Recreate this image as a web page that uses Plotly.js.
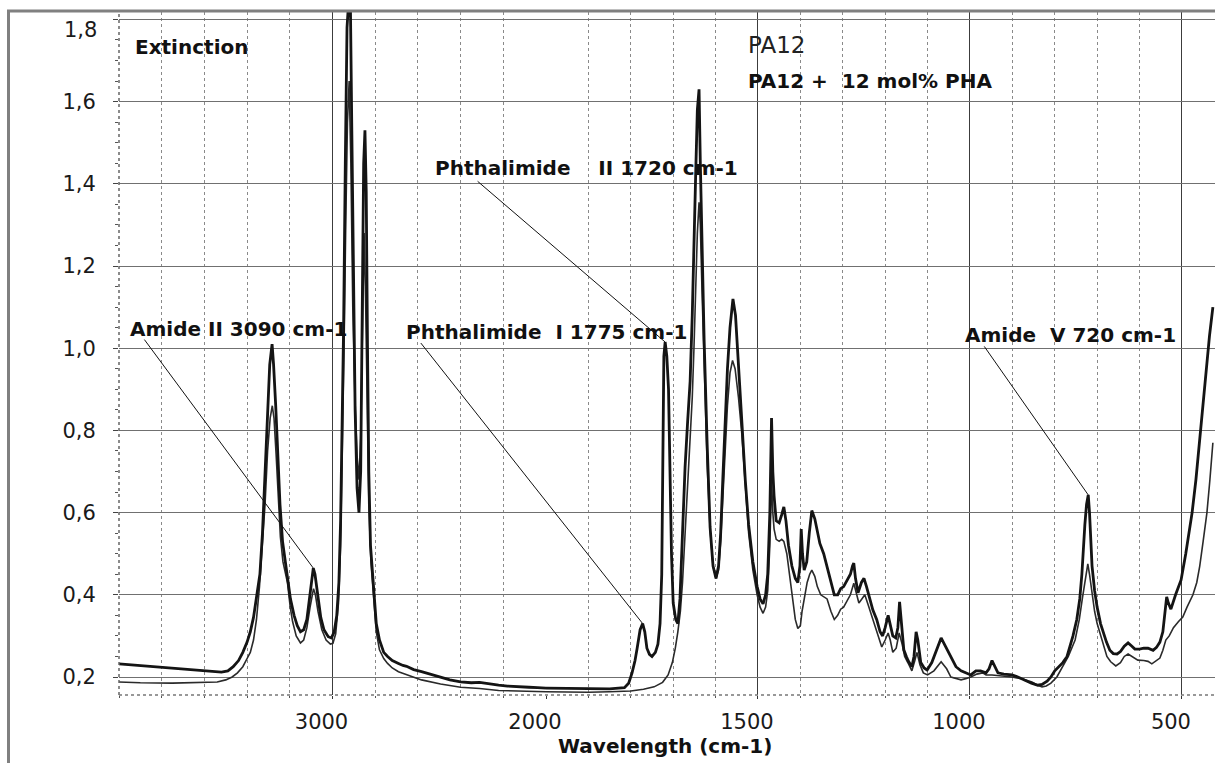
<!DOCTYPE html>
<html><head><meta charset="utf-8">
<script src="https://cdn.plot.ly/plotly-3.0.1.min.js"></script>
<style>html,body{margin:0;padding:0;background:#fff;} #chart{width:1215px;height:763px;}</style>
</head><body><div id="chart"></div>
<script>
// ---- Series: PA12 + 12 mol% PHA (thick line) ----
const waveA = [
4000,3900,3750,3650,3590,3520,3490,3465,3440,3420,
3400,3385,3370,3356,3340,3328,3318,3305,3294,3283,
3276,3266,3256,3246,3234,3222,3210,3197,3180,3165,
3150,3135,3120,3108,3098,3090,3082,3070,3055,3040,
3020,3005,2992,2980,2970,2962,2955,2948,2940,2932,
2926,2916,2910,2902,2894,2885,2876,2868,2860,2854,
2848,2842,2836,2830,2822,2808,2795,2780,2760,2742,
2720,2691,2670,2653,2620,2583,2540,2494,2450,2400,
2350,2311,2270,2222,2180,2134,2080,2040,2000,
1950,1900,1850,1815,1805,1797,1790,1785,1778,1772,
1767,1762,1756,1750,1742,1736,1731,1727,1724,1722,
1719,1715,1711,1708,1704,1700,1694,1689,1684,1678,
1672,1666,1660,1655,1651,1647,1643,1639,1636,1632,
1627,1620,1613,1606,1599,1593,1588,1583,1578,1572,
1566,1559,1553,1546,1538,1530,1522,1512,1502,1495,
1488,1482,1477,1472,1468,1465,1462,1457,1450,1444,
1439,1434,1428,1420,1412,1406,1401,1398,1395,1391,
1385,1379,1373,1366,1360,1354,1345,1337,1328,1320,
1312,1305,1298,1290,1282,1277,1274,1270,1264,1256,
1250,1244,1236,1229,1220,1212,1206,1200,1193,1188,
1182,1175,1170,1166,1162,1156,1150,1146,1140,1137,
1132,1127,1123,1116,1108,1101,1090,1078,1068,1058,
1045,1033,1021,1010,998,986,975,962,955,948,
941,934,920,901,887,873,855,840,830,818,
809,800,790,781,771,764,757,748,741,736,
733,729,725,721,718,715,712,706,700,692,
686,678,670,662,653,645,636,627,618,611,
600,590,580,568,560,552,545,540,536,532,
526,515,502,491,483,476,467,458,450,443,
435,427];
const extA = [
.232,.228,.222,.218,.215,.212,.215,.225,.24,.26,
.285,.31,.345,.39,.45,.55,.68,.84,.96,1.01,
.96,.86,.74,.62,.53,.48,.44,.39,.35,.325,
.31,.315,.34,.39,.44,.465,.45,.40,.345,.315,
.298,.295,.31,.35,.43,.58,.80,1.05,1.45,1.78,
1.83,1.83,1.55,1.15,.85,.66,.60,.70,1.05,1.45,
1.53,1.38,1.0,.70,.52,.41,.33,.29,.26,.25,
.24,.233,.228,.226,.218,.213,.206,.200,.193,.188,
.186,.187,.183,.180,.178,.176,.175,.174,.173,
.172,.171,.171,.174,.185,.21,.24,.27,.315,.33,
.31,.27,.255,.25,.26,.28,.33,.45,.70,.98,
1.015,.98,.90,.72,.50,.38,.34,.33,.39,.55,
.71,.82,.92,1.08,1.22,1.42,1.58,1.63,1.45,1.22,
1.02,.77,.565,.47,.44,.47,.55,.68,.82,.95,
1.05,1.12,1.08,.97,.82,.68,.57,.48,.42,.39,
.378,.40,.45,.60,.83,.70,.64,.58,.575,.595,
.614,.58,.52,.47,.44,.43,.47,.56,.50,.46,
.48,.55,.605,.585,.55,.525,.50,.47,.43,.40,
.40,.415,.42,.435,.45,.47,.477,.44,.405,.43,
.44,.42,.39,.363,.34,.31,.30,.32,.35,.33,
.30,.295,.32,.383,.33,.266,.25,.24,.23,.225,
.25,.31,.29,.235,.222,.217,.235,.27,.295,.275,
.25,.225,.215,.21,.205,.215,.215,.21,.22,.24,
.225,.21,.207,.205,.20,.193,.185,.18,.182,.19,
.20,.215,.225,.235,.25,.275,.30,.34,.39,.45,
.51,.57,.62,.643,.60,.53,.47,.41,.37,.33,
.31,.285,.265,.257,.256,.262,.275,.283,.275,.268,
.268,.27,.27,.265,.272,.285,.31,.35,.395,.38,
.365,.40,.436,.50,.55,.60,.68,.78,.87,.95,
1.03,1.10];

// ---- Series: PA12 (thin line) ----
const waveB = [
4000,3900,3750,3650,3590,3540,3500,3470,3445,3420,
3400,3385,3370,3356,3342,3328,3316,3304,3292,3282,
3274,3264,3254,3244,3232,3220,3211,3198,3187,3170,
3150,3135,3120,3105,3095,3089,3080,3068,3050,3030,
3010,2998,2985,2972,2962,2954,2946,2938,2930,2922,
2914,2905,2895,2885,2876,2868,2860,2852,2845,2838,
2830,2820,2808,2795,2780,2760,2742,2720,2691,2640,
2583,2494,2400,2311,2260,2222,2134,2060,2000,
1950,1900,1850,1800,1770,1745,1725,1712,1702,1695,
1689,1683,1678,1672,1666,1660,1655,1651,1647,1643,
1639,1636,1632,1627,1620,1613,1606,1599,1593,1588,
1583,1578,1572,1566,1560,1554,1546,1538,1530,1522,
1512,1502,1495,1488,1482,1477,1472,1468,1465,1462,
1457,1450,1444,1439,1432,1425,1418,1412,1406,1400,
1396,1390,1384,1378,1373,1366,1360,1352,1345,1337,
1328,1320,1312,1305,1298,1290,1282,1274,1268,1262,
1255,1248,1240,1229,1218,1208,1200,1193,1188,1182,
1174,1167,1160,1154,1146,1137,1130,1125,1118,1110,
1100,1085,1068,1055,1045,1030,1021,1010,998,984,
970,962,948,930,901,875,854,840,830,820,
809,795,781,768,752,742,735,729,725,722,
718,712,706,700,692,686,677,668,656,645,
636,627,618,604,590,580,571,562,552,545,
538,530,520,508,498,488,474,465,458,450,
441,434,427];
const extB = [
.188,.186,.185,.186,.186,.188,.193,.20,.21,.225,
.245,.26,.29,.34,.42,.52,.62,.75,.83,.86,
.83,.74,.63,.54,.48,.455,.43,.37,.335,.30,
.283,.29,.32,.37,.405,.415,.40,.36,.315,.29,
.28,.282,.305,.38,.52,.72,1.0,1.3,1.55,1.65,
1.45,1.1,.88,.74,.68,.78,1.02,1.28,1.12,.85,
.62,.48,.387,.31,.266,.245,.233,.222,.213,.203,
.193,.183,.175,.172,.169,.167,.166,.165,.164,
.163,.163,.164,.166,.170,.176,.187,.205,.235,.27,
.31,.36,.43,.54,.65,.76,.88,1.0,1.15,1.28,
1.355,1.30,1.14,.95,.72,.56,.47,.44,.46,.53,
.63,.75,.86,.94,.97,.95,.88,.79,.66,.55,
.46,.40,.37,.355,.37,.41,.52,.68,.60,.56,
.535,.53,.535,.53,.50,.44,.38,.34,.318,.325,
.36,.40,.43,.45,.46,.445,.42,.40,.395,.39,
.36,.34,.35,.365,.37,.385,.40,.428,.40,.38,
.39,.40,.375,.34,.30,.273,.29,.307,.29,.26,
.27,.307,.28,.25,.234,.215,.24,.26,.23,.21,
.205,.215,.237,.22,.20,.195,.193,.196,.20,.207,
.21,.205,.205,.203,.20,.195,.188,.18,.176,.178,
.185,.20,.225,.25,.29,.34,.39,.43,.46,.475,
.45,.40,.36,.33,.30,.28,.25,.237,.227,.235,
.25,.256,.25,.241,.24,.238,.232,.238,.246,.265,
.29,.30,.32,.335,.346,.37,.40,.43,.47,.53,
.60,.68,.77];

// ---- Axis ticks ----
const upperTicks = [3000];                  // 4000-2000 cm-1 part (half scale)
const lowerTicks = [2000, 1500, 1000, 500]; // 2000-400 cm-1 part
const scaleBreak = 2000;
const yTickVals = [0.2, 0.4, 0.6, 0.8, 1.0, 1.2, 1.4, 1.6, 1.8];
const yTickText = ['0,2', '0,4', '0,6', '0,8', '1,0', '1,2', '1,4', '1,6', '1,8'];

// ---- Band labels: text and wavenumber of the band ----
const bandLabels = ["Amide II 3090 cm-1", "Phthalimide\u00a0 I 1775 cm-1", "Phthalimide\u00a0\u00a0\u00a0 II 1720 cm-1", "Amide\u00a0 V 720 cm-1"];
const bandWaves = [3090, 1775, 1720, 720];

// ---------------------------------------------------------------
const W = 1215, H = 763;
const M = {l: 119, r: 0, t: 12, b: 68};
const plotW = W - M.l - M.r, plotH = H - M.t - M.b;
const px = v => (v - M.l) / plotW;          // page px -> paper x
const py = v => (H - M.b - v) / plotH;      // page px -> paper y
const FONT = "DejaVu Sans, Liberation Sans, Arial, sans-serif";

function split(wave, ext) {
  const up = {x: [], y: []}, lo = {x: [], y: []};
  wave.forEach((w, i) => {
    if (w >= scaleBreak) { up.x.push(w); up.y.push(ext[i]); }
    if (w <= scaleBreak) { lo.x.push(w); lo.y.push(ext[i]); }
  });
  return [up, lo];
}
const [aUp, aLo] = split(waveA, extA);
const [bUp, bLo] = split(waveB, extB);

const lineA = {color: '#141414', width: 2.8};
const lineB = {color: '#2a2a2a', width: 1.6};
const traces = [
  {x: bUp.x, y: bUp.y, xaxis: 'x', yaxis: 'y', mode: 'lines', line: lineB, name: 'PA12'},
  {x: bLo.x, y: bLo.y, xaxis: 'x2', yaxis: 'y', mode: 'lines', line: lineB, name: 'PA12'},
  {x: aUp.x, y: aUp.y, xaxis: 'x', yaxis: 'y', mode: 'lines', line: lineA, name: 'PA12 + 12 mol% PHA'},
  {x: aLo.x, y: aLo.y, xaxis: 'x2', yaxis: 'y', mode: 'lines', line: lineA, name: 'PA12 + 12 mol% PHA'}
];

function peakNear(wave, ext, target) {
  let best = -1;
  wave.forEach((w, i) => { if (Math.abs(w - target) <= 8 && (best < 0 || ext[i] > ext[best])) best = i; });
  return {w: wave[best], v: ext[best]};
}

const textStyle = {family: FONT, size: 20, color: '#111'};
const boldText = t => '<b>' + t + '</b>';

// text positions (left/right edge, vertical centre) and leader tails
const labelPos = [
  {x: px(128), y: py(329), xanchor: 'left'},
  {x: px(689), y: py(332), xanchor: 'right'},
  {x: px(740), y: py(168), xanchor: 'right'},
  {x: px(963), y: py(335), xanchor: 'left'}
];
const leaderTail = [[-170, -230], [-223, -282], [-189, -162], [-105, -150]];

const annotations = [];
bandLabels.forEach((t, i) => {
  annotations.push({text: boldText(t), xref: 'paper', yref: 'paper', x: labelPos[i].x, y: labelPos[i].y,
    xanchor: labelPos[i].xanchor, yanchor: 'middle', showarrow: false, font: textStyle});
  const p = peakNear(waveA, extA, bandWaves[i]);
  annotations.push({text: '', xref: p.w >= scaleBreak ? 'x' : 'x2', yref: 'y', x: p.w, y: p.v,
    showarrow: true, arrowhead: 0, arrowwidth: 1, arrowcolor: '#111', ax: leaderTail[i][0], ay: leaderTail[i][1],
    standoff: 0, startstandoff: 0});
});
annotations.push({text: boldText('Extinction'), xref: 'paper', yref: 'paper', x: px(133), y: py(46.5),
  xanchor: 'left', yanchor: 'middle', showarrow: false, font: textStyle});
annotations.push({text: 'PA12', xref: 'paper', yref: 'paper', x: px(746), y: py(45),
  xanchor: 'left', yanchor: 'middle', showarrow: false, font: {family: FONT, size: 23, color: '#222'}});
annotations.push({text: boldText('PA12 +\u00a0 12 mol% PHA'), xref: 'paper', yref: 'paper', x: px(746), y: py(81),
  xanchor: 'left', yanchor: 'middle', showarrow: false, font: textStyle});
annotations.push({text: boldText('Wavelength (cm-1)'), xref: 'paper', yref: 'paper', x: px(665), y: py(746),
  xanchor: 'center', yanchor: 'middle', showarrow: false, font: textStyle});
// the top tick label sits lower than its tick in the original (kept off the chart border)
annotations.push({text: yTickText[yTickText.length - 1], xref: 'paper', yref: 'paper', x: px(99), y: py(30),
  xanchor: 'right', yanchor: 'middle', showarrow: false, font: {family: FONT, size: 21, color: '#1a1a1a'}});

const d1 = px(546);
const xCommon = {
  type: 'linear', anchor: 'y', tickmode: 'array', ticks: 'outside', ticklen: 3, tickcolor: '#333',
  showgrid: true, gridcolor: '#3c3c3c', gridwidth: 1, zeroline: false, showline: false,
  tickfont: {family: FONT, size: 21, color: '#1a1a1a'}, ticklabelshift: 11, ticklabelstandoff: 5,
  fixedrange: true
};
const layout = {
  width: W, height: H, margin: Object.assign({pad: 0}, M),
  paper_bgcolor: '#fff', plot_bgcolor: '#fff', showlegend: false,
  font: {family: FONT, size: 21, color: '#1a1a1a'},
  xaxis: Object.assign({}, xCommon, {domain: [0, d1], range: [4000, 2000], tickvals: upperTicks,
    minor: {tickmode: 'linear', tick0: 0, dtick: 200, showgrid: true, gridcolor: '#8a8a8a', griddash: 'dot', gridwidth: 1, ticks: 'outside', ticklen: 2, tickcolor: '#555'}}),
  xaxis2: Object.assign({}, xCommon, {domain: [d1, 1], range: [2000, 422], tickvals: lowerTicks,
    minor: {tickmode: 'linear', tick0: 0, dtick: 100, showgrid: true, gridcolor: '#8a8a8a', griddash: 'dot', gridwidth: 1, ticks: 'outside', ticklen: 2, tickcolor: '#555'}}),
  yaxis: {range: [0.1562, 1.818], tickmode: 'array', tickvals: yTickVals,
    ticktext: yTickText.map((t, i) => i === yTickText.length - 1 ? '' : t),
    ticks: 'outside', ticklen: 5, tickcolor: '#444', showgrid: true, gridcolor: '#707070', gridwidth: 1,
    zeroline: false, showline: false, ticklabelstandoff: 13,
    tickfont: {family: FONT, size: 21, color: '#1a1a1a'},
    minor: {tickmode: 'linear', tick0: 0, dtick: 0.05, ticks: 'outside', ticklen: 3, tickcolor: '#555', showgrid: false},
    fixedrange: true},
  annotations: annotations,
  shapes: [
    // dotted axis lines
    {type: 'line', xref: 'paper', yref: 'paper', x0: 0, x1: 0, y0: 0, y1: 1, line: {color: '#666', width: 1.5, dash: 'dot'}},
    {type: 'line', xref: 'paper', yref: 'paper', x0: 0, x1: 1, y0: 0, y1: 0, line: {color: '#777', width: 1.5, dash: 'dot'}},
    // outer frame of the chart area
    {type: 'line', xref: 'paper', yref: 'paper', x0: px(8.5), x1: px(8.5), y0: py(763), y1: py(10), line: {color: '#808080', width: 3}},
    {type: 'line', xref: 'paper', yref: 'paper', x0: px(7), x1: px(1215), y0: py(11), y1: py(11), line: {color: '#808080', width: 3}}
  ]
};

Plotly.newPlot('chart', traces, layout, {staticPlot: true, displayModeBar: false});
</script></body></html>
